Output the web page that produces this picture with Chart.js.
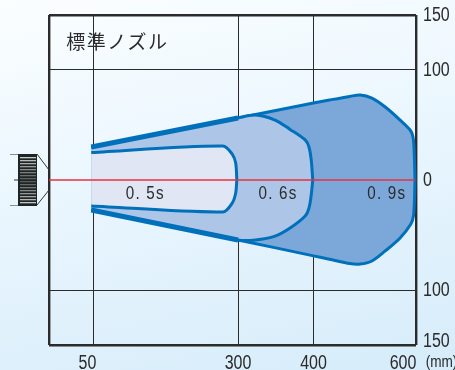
<!DOCTYPE html>
<html>
<head>
<meta charset="utf-8">
<script src="https://cdn.jsdelivr.net/npm/chart.js@4/dist/chart.umd.js"></script>
<style>
  html, body { margin: 0; padding: 0; }
  body { width: 455px; height: 370px; overflow: hidden; background: linear-gradient(168deg, #fbfeff 0%, #eaf6fe 45%, #d6ecfa 100%); }
  #wrap { position: relative; width: 455px; height: 370px; }
</style>
</head>
<body>
<div id="wrap"><canvas id="myChart"></canvas></div>
<script>
// distance along the beam (mm) and width either side of it (mm)
const xTickValues = [50, 300, 400, 600];
const yTickValues = [-150, -100, 0, 100, 150];

const x05 = [47, 274, 290, 296, 298];
const top05 = [25, 31, 23.6, 15.5, 0];
const bottom05 = [-23.6, -29, -21, -11.8, 0];

const x06 = [47, 300, 323, 349, 369, 389, 394, 397, 399];
const top06 = [30, 56.4, 59, 54.5, 46, 36.4, 30, 18, 0];
const bottom06 = [-27.3, -54.5, -54.5, -51, -43.6, -32.7, -25.5, -13.6, 0];

const x09 = [47, 300, 400, 431, 471, 491, 514, 540, 569, 590, 595, 597, 598];
const top09 = [30, 56.4, 70, 72.7, 76, 77.3, 74.5, 66.4, 54.5, 44.5, 36.4, 18, 0];
const bottom09 = [-27.3, -54.5, -69, -72, -76, -76.4, -73.6, -64.5, -52.7, -40, -32.7, -18, 0];

// the first stretch of the 0.6s / 0.9s outline is heavier
const xEdge = [47, 300];
const topEdge = [30, 56.4];
const bottomEdge = [-27.3, -54.5];

const xCenter = [-26, 598];
const yCenter = [0, 0];

const titleText = '標準ノズル';
const noteTexts = ['0. 5s', '0. 6s', '0. 9s'];
const noteX = [140, 353, 543];
const noteY = [-12.5, -12.5, -12.5];

const BLUE = '#0070bb';
const INK = '#2b2b2b';
// no narrow face is installed, so the reference's condensed digits are squeezed by hand
const FONT = '"Liberation Sans", sans-serif';
const SQUEEZE = 0.8;

// the reference axis is not linear: each stretch between ticks has its own length
const axisValues = [-26, 50, 300, 400, 600];
const axisFractions = [0, 0.1199, 0.515, 0.7207, 1];

class BentScale extends Chart.LinearScale {
    getPixelForValue(value) {
        let i = 1;
        while (i < axisValues.length - 1 && value > axisValues[i]) i++;
        const t = (value - axisValues[i - 1]) / (axisValues[i] - axisValues[i - 1]);
        return this.getPixelForDecimal(axisFractions[i - 1] + t * (axisFractions[i] - axisFractions[i - 1]));
    }
}
BentScale.id = 'bent';
BentScale.defaults = Chart.LinearScale.defaults;
Chart.register(BentScale);

function points(xs, ys) {
    return xs.map((x, i) => ({ x: x, y: ys[i] }));
}

function outline(label, xs, ys, width, fill) {
    return {
        label: label,
        data: points(xs, ys),
        borderColor: BLUE,
        borderWidth: width,
        backgroundColor: fill || 'transparent',
        fill: fill ? '-1' : false,
        pointRadius: 0,
        tension: 0.3,
        clip: false,
    };
}

// first dataset ends up on top; a filled lower edge is painted before its upper edge
const datasets = [
    { label: 'center', data: points(xCenter, yCenter), borderColor: '#e8303f', borderWidth: 1.6, pointRadius: 0, fill: false, clip: false },
    outline('0.5s top', x05, top05, 3),
    outline('0.5s bottom', x05, bottom05, 3, '#e0e6f4'),
    outline('edge top', xEdge, topEdge, 5),
    outline('edge bottom', xEdge, bottomEdge, 5),
    outline('0.6s top', x06, top06, 3),
    outline('0.6s bottom', x06, bottom06, 3, '#adc6e7'),
    outline('0.9s top', x09, top09, 3),
    outline('0.9s bottom', x09, bottom09, 3, '#7ca7d9'),
];

// draw an axis' own tick labels narrower; label x positions are divided by SQUEEZE in afterUpdate
function squeezeLabels(scale) {
    if (scale.squeezed) return;
    scale.squeezed = true;
    const draw = scale.drawLabels;
    scale._computeLabelArea = () => undefined;
    scale.drawLabels = function (area) {
        this.ctx.save();
        this.ctx.scale(SQUEEZE, 1);
        draw.call(this, area);
        this.ctx.restore();
    };
}

function squeezedText(ctx, text, x, y) {
    ctx.save();
    ctx.translate(x, y);
    ctx.scale(SQUEEZE, 1);
    ctx.fillText(text, 0, 0);
    ctx.restore();
}

const extras = {
    id: 'extras',
    afterUpdate(chart) {
        const { x, y } = chart.scales;
        squeezeLabels(x);
        squeezeLabels(y);
        x.getLabelItems().forEach(item => {
            const t = item.options.translation;
            // some tick labels sit off their grid line in the reference
            if (item.label === '50') t[0] -= 5.5;
            if (item.label === '600') t[0] -= 13;
            t[0] /= SQUEEZE;
        });
        y.getLabelItems().forEach(item => {
            const t = item.options.translation;
            if (item.label === '150' && t[1] > chart.height / 2) t[1] -= 4;
            t[0] /= SQUEEZE;
        });
    },
    afterDatasetsDraw(chart) {
        const { ctx, scales, chartArea } = chart;
        ctx.save();
        ctx.fillStyle = INK;
        ctx.textAlign = 'center';
        ctx.textBaseline = 'middle';
        ctx.font = '19px "Noto Sans CJK JP"';
        ctx.letterSpacing = '1.4px';
        ctx.fillText(titleText, scales.x.getPixelForValue(92), scales.y.getPixelForValue(126));
        ctx.font = '19px ' + FONT;
        ctx.letterSpacing = '1.5px';
        noteTexts.forEach((text, i) => {
            squeezedText(ctx, text, scales.x.getPixelForValue(noteX[i]), scales.y.getPixelForValue(noteY[i]));
        });
        ctx.letterSpacing = '0px';
        ctx.font = '17px ' + FONT;
        squeezedText(ctx, '(mm)', chartArea.right + 25.5, chartArea.bottom + 17);
        drawNozzle(ctx, chartArea.left, scales.y.getPixelForValue(0));
        ctx.restore();
    },
};

// sensor head icon left of the frame
function drawNozzle(ctx, left, mid) {
    const x = left - 31;
    ctx.fillStyle = '#1f2424';
    ctx.fillRect(x, mid - 26, 19, 52);
    for (let y = -23; y < 24; y += 3) {
        const near = Math.abs(y) / 24;
        ctx.fillStyle = 'rgba(235,240,240,' + (0.25 + 0.6 * near) + ')';
        ctx.fillRect(x + 2, mid + y, 16, 1.3);
    }
    ctx.strokeStyle = '#333';
    ctx.lineWidth = 1;
    ctx.beginPath();
    ctx.moveTo(x + 19, mid - 26);
    ctx.lineTo(left, mid - 10);
    ctx.moveTo(x + 19, mid + 25);
    ctx.lineTo(left, mid + 10);
    ctx.moveTo(x - 4, mid);
    ctx.lineTo(x, mid);
    ctx.stroke();
    ctx.strokeStyle = '#8a9090';
    ctx.beginPath();
    ctx.moveTo(x - 8, mid - 25.5);
    ctx.lineTo(x, mid - 25.5);
    ctx.moveTo(x - 8, mid + 25.5);
    ctx.lineTo(x, mid + 25.5);
    ctx.stroke();
}

// labels hang past the frame; without this the layout pushes the frame inwards
function fixPadding(scale) {
    scale.paddingTop = scale.paddingBottom = scale.paddingLeft = scale.paddingRight = 0;
}

const ctx = document.getElementById('myChart').getContext('2d');
new Chart(ctx, {
    type: 'line',
    data: { datasets: datasets },
    options: {
        responsive: true,
        maintainAspectRatio: false,
        animation: false,
        layout: { padding: { left: 49, top: 15, right: 0, bottom: 0 } },
        plugins: { legend: { display: false }, tooltip: { enabled: false } },
        scales: {
            x: {
                type: 'bent',
                min: axisValues[0],
                max: 600,
                afterBuildTicks: scale => {
                    scale.ticks = [axisValues[0], ...xTickValues].map(v => ({ value: v }));
                },
                afterFit: scale => { scale.height = 25; fixPadding(scale); },
                border: { display: false },
                grid: {
                    drawTicks: false,
                    color: INK,
                    lineWidth: c => (c.tick.value === axisValues[0] || c.tick.value === 600 ? 2.4 : 1),
                },
                ticks: {
                    autoSkip: false,
                    maxRotation: 0,
                    padding: 6,
                    color: INK,
                    font: { family: FONT, size: 20 },
                    callback: v => (xTickValues.includes(v) ? String(v) : ''),
                },
            },
            y: {
                position: 'right',
                min: -150,
                max: 150,
                afterBuildTicks: scale => {
                    scale.ticks = yTickValues.map(v => ({ value: v }));
                },
                afterFit: scale => { scale.width = 39; fixPadding(scale); },
                border: { display: false },
                grid: {
                    drawTicks: false,
                    color: c => (c.tick.value === 0 ? 'transparent' : INK),
                    lineWidth: c => (Math.abs(c.tick.value) === 150 ? 2.4 : 1),
                },
                ticks: {
                    padding: 7,
                    color: INK,
                    font: { family: FONT, size: 20 },
                    callback: v => String(Math.abs(v)),
                },
            },
        },
    },
    plugins: [extras],
});
</script>
</body>
</html>
